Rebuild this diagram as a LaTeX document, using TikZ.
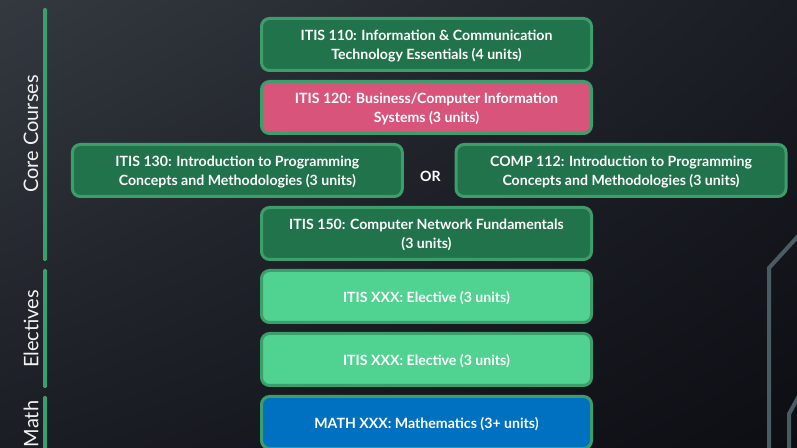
\documentclass[tikz,border=0pt]{standalone}
\usepackage{fontspec}
\setmainfont{Lato}
\usetikzlibrary{chains,positioning,shadings}

\definecolor{CoreGreen}{RGB}{33,115,75}
\definecolor{EdgeGreen}{RGB}{60,158,106}
\definecolor{BizPink}{RGB}{217,84,122}
\definecolor{ElecGreen}{RGB}{80,210,145}
\definecolor{MathBlue}{RGB}{0,112,192}
\definecolor{DecoGray}{RGB}{74,91,100}
\definecolor{BgA}{RGB}{52,57,64}
\definecolor{BgB}{RGB}{26,29,35}
\definecolor{BgC}{RGB}{12,14,20}

\begin{document}
\begin{tikzpicture}[
		x=0.75pt, y=-0.75pt,
		start chain = going below,
		node distance = 6pt,
		CourseBox/.style={draw=EdgeGreen, line width=2.25pt, fill=CoreGreen,
			rounded corners=6pt, minimum width=247.5pt, minimum height=39pt,
			align=center, text=white, inner sep=2pt, text depth=0pt,
			font=\bfseries\fontsize{10.6}{14.25}\selectfont},
		ColBox/.style={CourseBox, on chain},
		OrText/.style={minimum height=41.25pt, outer sep=0pt, text=white,
			text height=16pt, text depth=0pt,
			font=\bfseries\fontsize{10.6}{14.25}\selectfont, on chain},
		SideBar/.style={fill=EdgeGreen, rounded corners=1pt},
		SideLabel/.style={rotate=90, text=white!90!gray,
			font=\fontsize{15}{18}\selectfont},
		]
		% background
		\shade[upper left=BgA, upper right=BgB, lower left=BgB, lower right=BgC]
			(0,0) rectangle (797,448);
		\useasboundingbox (0,0) rectangle (797,448);
		\draw[DecoGray, line width=3pt] (800,234) -- (769,268) -- (769,452);
		\draw[DecoGray, line width=3pt] (800,394) -- (789,414) -- (789,452);
		
		% side labels
		\fill[SideBar] (43,8) rectangle (47,261);
		\fill[SideBar] (43,269) rectangle (47,388);
		\fill[SideBar] (43,396) rectangle (47,452);
		\node[SideLabel] (corelbl) at (31,134) {Core Courses};
		\node[SideLabel] (eleclbl) at (31,329) {Electives};
		\node[SideLabel] (mathlbl) at (31,424) {Math};
		
		% courses
		\node [ColBox] (itis110) at (426.5,44.5) {ITIS 110: Information \& Communication\\Technology Essentials (4 units)};
		\node [ColBox, fill=BizPink] (itis120) {ITIS 120: Business/Computer Information\\Systems (3 units)};
		\node [OrText, xshift=3pt] (or) {OR};
		\node [CourseBox, left=20pt of or.center] (itis130) {ITIS 130: Introduction to Programming\\Concepts and Methodologies (3 units)};
		\node [CourseBox, right=18pt of or.center] (comp112) {COMP 112: Introduction to Programming\\Concepts and Methodologies (3 units)};
		\node [ColBox, xshift=-3pt] (itis150) {ITIS 150: Computer Network Fundamentals\\(3 units)};
		\node [ColBox, fill=ElecGreen] (elec1) {ITIS XXX: Elective (3 units)};
		\node [ColBox, fill=ElecGreen] (elec2) {ITIS XXX: Elective (3 units)};
		\node [ColBox, fill=MathBlue] (math) {MATH XXX: Mathematics (3+ units)};
		
		\end{tikzpicture}
\end{document}
